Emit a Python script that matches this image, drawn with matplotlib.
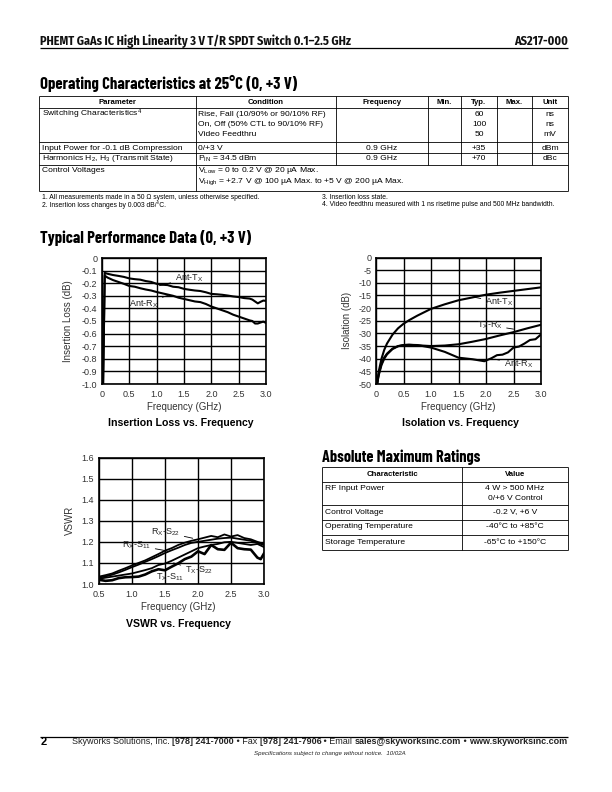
import matplotlib
matplotlib.use("Agg")
import matplotlib.pyplot as plt

plt.rcParams['font.family'] = ['Liberation Sans', 'DejaVu Sans']
plt.rcParams['mathtext.default'] = 'regular'
HEAD = ['Barlow Condensed', 'Liberation Sans', 'DejaVu Sans']
TOP = ['Fira Sans Condensed', 'Liberation Sans', 'DejaVu Sans']

# ---------------- data ----------------
# Insertion loss (dB) vs frequency (GHz)
il_freq = [0.02, 0.05, 0.1, 0.2, 0.3, 0.4, 0.5, 0.6, 0.7, 0.8, 0.9, 1.0, 1.1, 1.2, 1.3,
           1.4, 1.5, 1.6, 1.7, 1.8, 1.9, 2.0, 2.1, 2.2, 2.3, 2.4, 2.5, 2.6, 2.7, 2.75,
           2.8, 2.85, 2.9, 2.95, 3.0]
il_ant_tx = [-1.0, -0.118, -0.125, -0.135, -0.142, -0.150, -0.162, -0.168, -0.172, -0.183,
             -0.190, -0.205, -0.212, -0.215, -0.228, -0.232, -0.245, -0.252, -0.258, -0.262,
             -0.272, -0.285, -0.288, -0.292, -0.298, -0.305, -0.310, -0.318, -0.322, -0.330,
             -0.345, -0.360, -0.348, -0.338, -0.340]
il_ant_rx = [-1.0, -0.140, -0.155, -0.175, -0.190, -0.205, -0.222, -0.228, -0.240, -0.250,
             -0.258, -0.270, -0.280, -0.290, -0.300, -0.315, -0.325, -0.335, -0.345, -0.350,
             -0.365, -0.385, -0.400, -0.415, -0.430, -0.450, -0.465, -0.480, -0.495, -0.500,
             -0.520, -0.520, -0.512, -0.505, -0.515]

# Isolation (dB) vs frequency (GHz)
iso_freq = [0.02, 0.05, 0.1, 0.15, 0.2, 0.3, 0.4, 0.5, 0.6, 0.75, 1.0, 1.25, 1.5, 1.75,
            2.0, 2.25, 2.5, 2.75, 3.0]
iso_ant_tx = [-50, -45, -40, -36.5, -34, -30.5, -28, -26.2, -24.8, -23, -20.3, -18.5,
              -16.9, -15.8, -14.7, -13.9, -13.2, -12.5, -11.8]
iso_tx_rx = [-50, -46, -42, -39.5, -38, -36, -35, -34.6, -34.5, -34.7, -35, -34.8,
             -34.3, -33.3, -32.2, -30.8, -29.5, -28, -26.6]
iso_rx_freq = [0.02, 0.05, 0.1, 0.15, 0.2, 0.3, 0.4, 0.5, 0.6, 0.75, 1.0, 1.25, 1.5, 1.75,
               1.97, 2.1, 2.2, 2.3, 2.4, 2.5, 2.6, 2.7, 2.8, 2.9, 3.0]
iso_ant_rx = [-50, -46.5, -42.5, -40, -38.3, -36.2, -35.1, -34.6, -34.5, -34.6, -35.6,
              -37.3, -39.6, -40.2, -41, -39.8, -38.6, -38.4, -37.5, -35.6, -35.2, -34.0,
              -32.6, -32.3, -30.4]

# VSWR vs frequency (GHz)
vswr_freq = [0.5, 0.6, 0.7, 0.8, 0.9, 1.0, 1.1, 1.2, 1.3, 1.4, 1.5, 1.6, 1.7, 1.8, 1.9,
             2.0, 2.1, 2.2, 2.3, 2.4, 2.5, 2.6, 2.7, 2.8, 2.9, 3.0]
vswr_rx_s22 = [1.035, 1.042, 1.050, 1.063, 1.075, 1.088, 1.100, 1.112, 1.127, 1.142, 1.158,
               1.170, 1.185, 1.196, 1.205, 1.212, 1.220, 1.228, 1.222, 1.235, 1.225, 1.232,
               1.218, 1.212, 1.200, 1.190]
vswr_rx_s11 = [1.030, 1.036, 1.044, 1.055, 1.067, 1.080, 1.092, 1.105, 1.118, 1.132, 1.147,
               1.160, 1.172, 1.185, 1.195, 1.200, 1.205, 1.210, 1.215, 1.218, 1.220, 1.215,
               1.210, 1.205, 1.195, 1.185]
vswr_tx_s22 = [1.025, 1.030, 1.035, 1.040, 1.045, 1.050, 1.058, 1.066, 1.075, 1.090, 1.097,
               1.110, 1.125, 1.140, 1.155, 1.170, 1.178, 1.185, 1.190, 1.198, 1.200, 1.195,
               1.190, 1.185, 1.190, 1.175]
vswr_tx_s11_freq = [0.5, 0.6, 0.7, 0.8, 0.9, 1.0, 1.1, 1.2, 1.3, 1.4, 1.5, 1.6, 1.7, 1.8,
                    1.9, 2.0, 2.1, 2.2, 2.3, 2.4, 2.5, 2.6, 2.7, 2.8, 2.9, 2.95, 3.0]
vswr_tx_s11 = [1.020, 1.015, 1.018, 1.028, 1.032, 1.033, 1.035, 1.045, 1.060, 1.070, 1.065,
               1.082, 1.098, 1.118, 1.130, 1.155, 1.142, 1.185, 1.165, 1.162, 1.196, 1.170,
               1.165, 1.163, 1.125, 1.118, 1.145]

# tables
op_header = ["Parameter", "Condition", "Frequency", "Min.", "Typ.", "Max.", "Unit"]
op_params = ["Switching Characteristics$^4$", "Input Power for -0.1 dB Compression",
             "Harmonics H$_2$, H$_3$ (Transmit State)", "Control Voltages"]
op_conditions = [["Rise, Fall (10/90% or 90/10% RF)", "On, Off (50% CTL to 90/10% RF)",
                  "Video Feedthru"],
                 ["0/+3 V"], ["P$_{IN}$ = 34.5 dBm"],
                 ["V$_{Low}$ = 0 to 0.2 V @ 20 µA Max.",
                  "V$_{High}$ = +2.7 V @ 100 µA Max. to +5 V @ 200 µA Max."]]
op_freq = [[], ["0.9 GHz"], ["0.9 GHz"], []]
op_typ = [["60", "100", "50"], ["+35"], ["+70"], []]
op_unit = [["ns", "ns", "mV"], ["dBm"], ["dBc"], []]

amr_header = ["Characteristic", "Value"]
amr_names = ["RF Input Power", "Control Voltage", "Operating Temperature", "Storage Temperature"]
amr_values = [["4 W > 500 MHz", "0/+6 V Control"], ["-0.2 V, +6 V"], ["-40°C to +85°C"],
              ["-65°C to +150°C"]]

# ---------------- page ----------------
W, H = 612, 792
fig = plt.figure(figsize=(W / 100, H / 100), dpi=100)
page = fig.add_axes([0, 0, 1, 1])
page.set_xlim(0, W)
page.set_ylim(H, 0)
page.axis('off')


def box(l, t, r, b):
    return [l / W, 1 - b / H, (r - l) / W, (b - t) / H]


def hline(x0, x1, y, lw=0.6):
    page.plot([x0, x1], [y, y], color='k', lw=lw, solid_capstyle='butt')


def vline(x, y0, y1, lw=0.6):
    page.plot([x, x], [y0, y1], color='k', lw=lw, solid_capstyle='butt')


# header
page.text(40, 41, "PHEMT GaAs IC High Linearity 3 V T/R SPDT Switch 0.1–2.5 GHz",
          family=TOP, weight='bold', fontsize=8.8, va='center', color='#111111')
page.text(568, 41, "AS217-000", family=TOP, weight='bold', fontsize=8.8,
          va='center', ha='right', color='#111111')
hline(40, 568, 47.5, lw=0.9)

# section: operating characteristics
page.text(40, 83, "Operating Characteristics at 25°C (0, +3 V)", family=HEAD,
          weight='bold', fontsize=12, va='center')

cols = [39, 196, 336, 428, 461, 497, 532, 568]
rows = [96, 108, 142, 153, 165, 191]
for y in rows:
    hline(cols[0], cols[-1], y)
for x in cols:
    if x in (cols[0], cols[1], cols[-1]):
        vline(x, rows[0], rows[-1])
    else:
        vline(x, rows[0], rows[-2])
for i, name in enumerate(op_header):
    page.text((cols[i] + cols[i + 1]) / 2, 102.5, name, ha='center', va='center',
              fontsize=5.6, weight='bold')

line_step = 10.5
for r in range(4):
    top = rows[r + 1]
    y0 = top + 6
    page.text(42, y0, op_params[r], fontsize=6.1, va='center')
    for k, s in enumerate(op_conditions[r]):
        page.text(198, y0 + k * line_step, s, fontsize=6.1, va='center')
    for k, s in enumerate(op_freq[r]):
        page.text((cols[2] + cols[3]) / 2, y0 + k * line_step, s, fontsize=6.1,
                  va='center', ha='center')
    for k, s in enumerate(op_typ[r]):
        page.text((cols[4] + cols[5]) / 2, y0 + k * line_step, s, fontsize=6.1,
                  va='center', ha='center')
    for k, s in enumerate(op_unit[r]):
        page.text((cols[6] + cols[7]) / 2, y0 + k * line_step, s, fontsize=6.1,
                  va='center', ha='center')

page.text(42, 197.5, "1. All measurements made in a 50 Ω system, unless otherwise specified.",
          fontsize=4.9, va='center')
page.text(42, 205, "2. Insertion loss changes by 0.003 dB/°C.", fontsize=4.9, va='center')
page.text(322, 197.5, "3. Insertion loss state.", fontsize=4.9, va='center')
page.text(322, 205, "4. Video feedthru measured with 1 ns risetime pulse and 500 MHz bandwidth.",
          fontsize=4.9, va='center')

# section: typical performance
page.text(40, 238, "Typical Performance Data (0, +3 V)", family=HEAD, weight='bold',
          fontsize=12, va='center')


def chart(rect, xlim, ylim, xticks, xlabels, yticks, ylabels):
    ax = fig.add_axes(box(*rect))
    ax.set_xlim(xlim)
    ax.set_ylim(ylim)
    ax.set_xticks(xticks)
    ax.set_xticklabels(xlabels)
    ax.set_yticks(yticks)
    ax.set_yticklabels(ylabels)
    ax.grid(True, color='k', lw=1.0)
    ax.set_axisbelow(True)
    ax.tick_params(length=0, labelsize=6.5, labelcolor='#333333')
    ax.tick_params(axis='x', pad=4.5)
    ax.tick_params(axis='y', pad=3.5)
    for s in ax.spines.values():
        s.set_linewidth(1.2)
    return ax


def label(ax, text, xy, xytext, ha='left'):
    ax.annotate(text, xy=xy, xytext=xytext, fontsize=6.5, color='#222222', ha=ha,
                va='center', arrowprops=dict(arrowstyle='-', lw=0.6, color='k',
                                             shrinkA=1, shrinkB=0))


curve = dict(color='k', lw=1.5, solid_joinstyle='round')

# insertion loss
ax1 = chart((102, 258, 266, 384), (0, 3), (-1.0, 0),
            [0, 0.5, 1.0, 1.5, 2.0, 2.5, 3.0], ["0", "0.5", "1.0", "1.5", "2.0", "2.5", "3.0"],
            [0, -0.1, -0.2, -0.3, -0.4, -0.5, -0.6, -0.7, -0.8, -0.9, -1.0],
            ["0", "-0.1", "-0.2", "-0.3", "-0.4", "-0.5", "-0.6", "-0.7", "-0.8", "-0.9", "-1.0"])
ax1.plot(il_freq, il_ant_tx, **curve)
ax1.plot(il_freq, il_ant_rx, **curve)
label(ax1, "Ant-T$_X$", (1.05, -0.22), (1.33, -0.16))
label(ax1, "Ant-R$_X$", (1.22, -0.295), (1.03, -0.36), ha='right')
page.text(68, 321, "Insertion Loss (dB)", rotation=90, fontsize=7, ha='center', va='center',
          color='#333333')
page.text(184, 407.5, "Frequency (GHz)", fontsize=7, ha='center', va='center', color='#333333')
page.text(181, 423, "Insertion Loss vs. Frequency", fontsize=7.6, weight='bold',
          ha='center', va='center')

# isolation
ax2 = chart((376, 257.5, 541, 384), (0, 3), (-50, 0),
            [0, 0.5, 1.0, 1.5, 2.0, 2.5, 3.0], ["0", "0.5", "1.0", "1.5", "2.0", "2.5", "3.0"],
            list(range(0, -55, -5)), [str(v) for v in range(0, -55, -5)])
ax2.plot(iso_freq, iso_ant_tx, **curve)
ax2.plot(iso_freq, iso_tx_rx, **curve)
ax2.plot(iso_rx_freq, iso_ant_rx, **curve)
label(ax2, "Ant-T$_X$", (1.76, -15.6), (1.98, -17.6))
label(ax2, "T$_X$-R$_X$", (2.5, -28.3), (2.3, -26.8), ha='right')
label(ax2, "Ant-R$_X$", (2.16, -40.2), (2.32, -42.0))
page.text(347, 320, "Isolation (dB)", rotation=90, fontsize=7, ha='center', va='center',
          color='#333333')
page.text(458, 407.5, "Frequency (GHz)", fontsize=7, ha='center', va='center', color='#333333')
page.text(461, 422.5, "Isolation vs. Frequency", fontsize=7.6, weight='bold',
          ha='center', va='center')

# VSWR
ax3 = chart((99, 457.5, 264, 584), (0.5, 3.0), (1.0, 1.6),
            [0.5, 1.0, 1.5, 2.0, 2.5, 3.0], ["0.5", "1.0", "1.5", "2.0", "2.5", "3.0"],
            [1.0, 1.1, 1.2, 1.3, 1.4, 1.5, 1.6], ["1.0", "1.1", "1.2", "1.3", "1.4", "1.5", "1.6"])
ax3.plot(vswr_freq, vswr_rx_s22, color='k', lw=1.3)
ax3.plot(vswr_freq, vswr_rx_s11, color='k', lw=1.3)
ax3.plot(vswr_freq, vswr_tx_s22, color='k', lw=1.3)
ax3.plot(vswr_tx_s11_freq, vswr_tx_s11, color='k', lw=1.9)
label(ax3, "R$_X$-S$_{22}$", (1.92, 1.217), (1.73, 1.245), ha='right')
label(ax3, "R$_X$-S$_{11}$", (1.53, 1.157), (1.29, 1.183), ha='right')
label(ax3, "T$_X$-S$_{22}$", (1.63, 1.10), (1.80, 1.063))
label(ax3, "T$_X$-S$_{11}$", (1.30, 1.066), (1.37, 1.033))
page.text(70, 520, "VSWR", rotation=90, fontsize=7, ha='center', va='center', color='#333333')
page.text(178, 607, "Frequency (GHz)", fontsize=7, ha='center', va='center', color='#333333')
page.text(178, 624, "VSWR vs. Frequency", fontsize=7.6, weight='bold', ha='center', va='center')

# absolute maximum ratings
page.text(322, 457, "Absolute Maximum Ratings", family=HEAD, weight='bold', fontsize=11.7,
          va='center')
acols = [322, 462, 568]
arows = [467, 482, 505, 520, 535, 549.5]
for y in arows:
    hline(acols[0], acols[-1], y)
for x in acols:
    vline(x, arows[0], arows[-1])
for i, name in enumerate(amr_header):
    page.text((acols[i] + acols[i + 1]) / 2, 474.5, name, ha='center', va='center',
              fontsize=5.6, weight='bold')
for r in range(4):
    y0 = arows[r + 1] + 7
    page.text(325, y0, amr_names[r], fontsize=6.1, va='center')
    for k, s in enumerate(amr_values[r]):
        page.text((acols[1] + acols[2]) / 2, y0 + k * 9.5, s, fontsize=6.1, va='center',
                  ha='center')

# footer
hline(40, 568, 737, lw=0.9)
page.text(41, 742, "2", fontsize=8, weight='bold', va='center')
parts = [("Skyworks Solutions, Inc. ", 'normal'), ("[978] 241-7000", 'bold'),
         (" • Fax ", 'normal'), ("[978] 241-7906", 'bold'), (" • Email ", 'normal'),
         ("sales@skyworksinc.com", 'bold'), (" • ", 'normal'), ("www.skyworksinc.com", 'bold')]
prev = page.text(72, 742, parts[0][0], fontsize=6.45, va='center', color='#222222')
for s, w in parts[1:]:
    prev = page.annotate(s, xy=(1, 0), xycoords=prev, va='bottom', ha='left',
                         fontsize=6.45, weight=w, color='#222222')
page.text(330, 753.5, "Specifications subject to change without notice.  10/02A",
          fontsize=4.4, style='italic', ha='center', va='center', color='#222222')

fig.savefig("out.png", dpi=100)
